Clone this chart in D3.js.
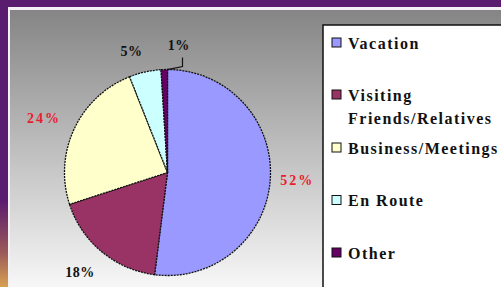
<!DOCTYPE html>
<html>
<head>
<meta charset="utf-8">
<script src="https://cdn.jsdelivr.net/npm/d3@7"></script>
<style>
  body { margin: 0; overflow: hidden; background: #5a1c6e; }
</style>
</head>
<body>
<svg id="visCanvas" width="501" height="287"></svg>
<script>
//data
var categories = ["Vacation", "Visiting Friends/Relatives", "Business/Meetings", "En Route", "Other"];
var shares = [52, 18, 24, 5, 1];
var labels = ["52%", "18%", "24%", "5%", "1%"];
var legendLines = [["Vacation"], ["Visiting", "Friends/Relatives"], ["Business/Meetings"], ["En Route"], ["Other"]];

drawPie();

function drawPie() {
    var svg = d3.select("#visCanvas"),
        width = +svg.attr("width"),
        height = +svg.attr("height"),
        cx = 167.5, cy = 172.5, //middle of the pie
        radius = 103,
        colors = ["#9999ff", "#993366", "#ffffcc", "#ccffff", "#660066"],
        labelColors = ["#e8202c", "#111", "#e8202c", "#111", "#111"],
        font = "'Liberation Serif', 'Times New Roman', serif";
//end of defining variables

    //gradient for the plot area
    var defs = svg.append("defs");
    var grad = defs.append("linearGradient")
        .attr("id", "bg").attr("x1", 0).attr("y1", 0).attr("x2", 0).attr("y2", 1);
    grad.append("stop").attr("offset", "0%").attr("stop-color", "#858585");
    grad.append("stop").attr("offset", "55%").attr("stop-color", "#c6c6c6");
    grad.append("stop").attr("offset", "100%").attr("stop-color", "#fbfbfb");

    //purple frame and the city light at bottom left
    svg.append("rect").attr("width", width).attr("height", height).attr("fill", "#5a1c6e");
    var city = defs.append("linearGradient")
        .attr("id", "city").attr("x1", 0).attr("y1", 0).attr("x2", 0).attr("y2", 1);
    city.append("stop").attr("offset", "0%").attr("stop-color", "#5a1c6e");
    city.append("stop").attr("offset", "60%").attr("stop-color", "#9a5a5a");
    city.append("stop").attr("offset", "100%").attr("stop-color", "#d8a050");
    svg.append("rect").attr("x", 0).attr("y", 200).attr("width", 9).attr("height", 87).attr("fill", "url(#city)");

    //white line and plot area
    svg.append("rect").attr("x", 8).attr("y", 7).attr("width", width).attr("height", height)
        .attr("fill", "#f4f0f6");
    svg.append("rect").attr("x", 10).attr("y", 10).attr("width", width).attr("height", height)
        .attr("fill", "url(#bg)");

    //pie
    var pie = d3.pie().sort(null).value(function (d) { return d; });
    var arc = d3.arc().innerRadius(0).outerRadius(radius);
    var arcs = pie(shares);

    var g = svg.append("g").attr("transform", "translate(" + cx + "," + cy + ")");
    g.selectAll("path")
        .data(arcs)
        .enter().append("path")
        .attr("d", arc)
        .attr("fill", function (d, i) { return colors[i]; })
        .attr("stroke", "#111")
        .attr("stroke-width", 1.3)
        .attr("stroke-dasharray", "2,1");

    //labels, pushed out from the middle angle (small nudges where excel moved them)
    var labelRadius = [130, 133, 135, 126, 128];
    var labelNudge = [0, 1.5, -1.5, -4, 6.8]; //degrees
    arcs.forEach(function (d, i) {
        var a = (d.startAngle + d.endAngle) / 2 + labelNudge[i] * Math.PI / 180;
        var r = labelRadius[i];
        g.append("text")
            .attr("x", Math.sin(a) * r)
            .attr("y", -Math.cos(a) * r)
            .attr("text-anchor", "middle")
            .attr("dominant-baseline", "central")
            .attr("font-family", font)
            .attr("font-weight", "bold")
            .attr("font-size", 14)
            .attr("letter-spacing", labelColors[i] == "#111" ? 0.5 : 2)
            .attr("fill", labelColors[i])
            .text(labels[i]);
    });

    //leader line for the smallest slice
    var small = arcs[4], sa = (small.startAngle + small.endAngle) / 2;
    var p0 = [Math.sin(sa) * radius + 3, -Math.cos(sa) * radius];
    g.append("path")
        .attr("d", d3.line()([p0, [15, -radius - 3], [15, -radius - 12]]))
        .attr("fill", "none").attr("stroke", "#111").attr("stroke-width", 1.2);

    //legend
    var lx = 323, ly = 25;
    svg.append("rect").attr("x", lx).attr("y", ly).attr("width", 200).attr("height", 300)
        .attr("fill", "#fff").attr("stroke", "#111").attr("stroke-width", 1.5);
    var itemY = d3.scalePoint().domain(categories).range([43, 253]);
    categories.forEach(function (c, i) {
        var y = itemY(c);
        if (i == 1) y = 95; //the two line item sits a bit higher
        svg.append("rect").attr("x", 332).attr("y", y - 5).attr("width", 9).attr("height", 9)
            .attr("fill", colors[i]).attr("stroke", "#111").attr("stroke-width", 1);
        legendLines[i].forEach(function (t, j) {
            svg.append("text")
                .attr("x", 348)
                .attr("y", y + j * 23)
                .attr("dominant-baseline", "central")
                .attr("font-family", font)
                .attr("font-weight", "bold")
                .attr("font-size", 16)
                .attr("letter-spacing", 1.5)
                .attr("fill", "#111")
                .text(t);
        });
    });
}
</script>
</body>
</html>
